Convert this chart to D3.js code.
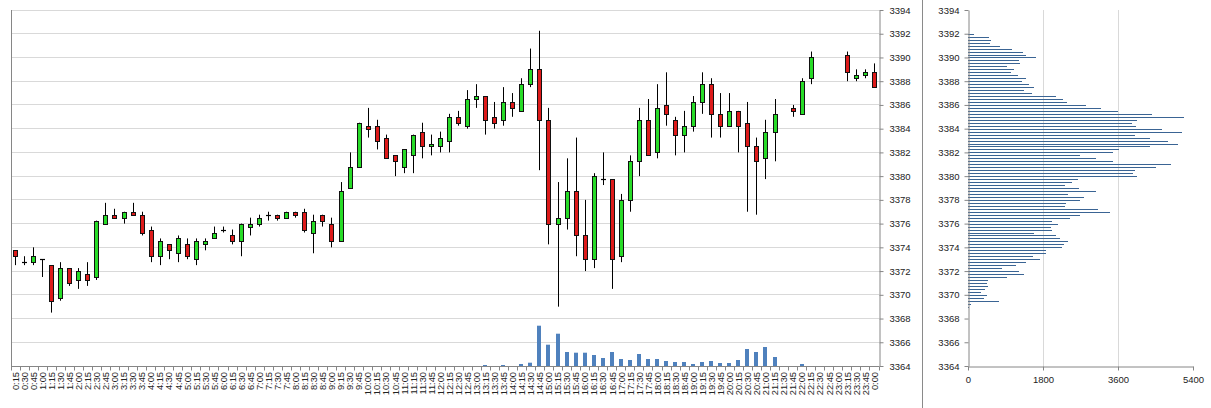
<!DOCTYPE html>
<html><head><meta charset="utf-8">
<script src="https://cdn.jsdelivr.net/npm/d3@7"></script>
<style>html,body{margin:0;padding:0;background:#fff;}svg{display:block;}</style>
</head><body>
<script>
// ---------- DATA ----------
const timeLabels = ["0:15","0:30","0:45","1:00","1:15","1:30","1:45","2:00","2:15","2:30","2:45","3:00","3:15","3:30","3:45","4:00","4:15","4:30","4:45","5:00","5:15","5:30","5:45","6:00","6:15","6:30","6:45","7:00","7:15","7:30","7:45","8:00","8:15","8:30","8:45","9:00","9:15","9:30","9:45","10:00","10:15","10:30","10:45","11:00","11:15","11:30","11:45","12:00","12:15","12:30","12:45","13:00","13:15","13:30","13:45","14:00","14:15","14:30","14:45","15:00","15:15","15:30","15:45","16:00","16:15","16:30","16:45","17:00","17:15","17:30","17:45","18:00","18:15","18:30","18:45","19:00","19:15","19:30","19:45","20:00","20:15","20:30","20:45","21:00","21:15","21:30","21:45","22:00","22:15","22:30","22:45","23:00","23:15","23:30","23:45","0:00"];

const openP = [3373.75,3372.75,3372.75,3373.0,3372.5,3369.75,3372.25,3371.25,3371.75,3371.5,
3376.0,3376.75,3376.5,3377.0,3376.75,3375.5,3373.25,3374.25,3373.5,3374.25,
3373.0,3374.25,3374.75,3375.5,3375.0,3374.5,3375.75,3376.0,3376.75,3376.75,
3376.5,3377.0,3377.0,3375.25,3376.75,3376.0,3374.5,3379.0,3380.75,3384.25,
3384.25,3383.25,3381.75,3380.75,3381.75,3383.75,3382.5,3382.5,3383.0,3385.0,
3384.25,3386.5,3386.75,3385.0,3384.75,3386.25,3385.5,3387.75,3389.0,3384.75,
3376.0,3376.5,3378.75,3375.0,3373.0,3379.75,3379.75,3373.25,3378.0,3381.25,
3384.75,3382.0,3386.0,3384.75,3383.5,3384.25,3386.25,3387.75,3385.25,3384.25,
3385.5,3384.5,3382.5,3381.5,3383.75,null,3385.75,3385.25,3388.25,null,
null,null,3390.25,3388.25,3388.5,3388.75];

const highP = [3373.75,3373.25,3374.0,3373.0,3372.5,3372.75,3372.25,3372.25,3372.75,3376.25,
3377.75,3377.25,3377.0,3377.75,3377.0,3375.75,3374.75,3374.25,3375.0,3374.75,
3374.75,3374.75,3375.75,3375.75,3375.5,3376.0,3376.5,3376.75,3377.0,3376.75,
3377.0,3377.0,3377.25,3376.75,3376.75,3376.5,3379.5,3382.0,3384.5,3385.75,
3384.75,3383.5,3381.75,3382.25,3383.5,3384.5,3383.5,3383.75,3385.25,3385.5,
3387.25,3387.75,3386.75,3386.25,3387.5,3387.0,3388.25,3390.75,3392.25,3385.75,
3379.5,3381.5,3383.25,3378.0,3380.25,3382.0,3379.75,3378.5,3381.75,3385.75,
3386.5,3387.75,3388.75,3385.0,3385.5,3386.75,3388.75,3388.25,3387.0,3387.0,
3385.5,3386.25,3383.25,3384.75,3386.5,null,3386.0,3388.25,3390.5,null,
null,null,3390.5,3389.0,3389.0,3389.5];

const lowP = [3372.5,3372.5,3372.5,3371.5,3368.5,3369.5,3370.75,3370.5,3370.75,3371.25,
3376.0,3376.5,3376.0,3376.75,3375.0,3372.75,3372.5,3373.0,3372.75,3373.0,
3372.5,3373.75,3374.75,3375.25,3374.25,3373.25,3375.0,3375.75,3376.25,3376.25,
3376.5,3376.5,3375.25,3373.5,3375.75,3374.0,3374.5,3379.0,3380.75,3383.25,
3382.25,3381.5,3380.0,3380.25,3380.25,3381.5,3381.75,3382.0,3382.0,3384.25,
3384.0,3385.75,3383.5,3384.0,3384.25,3385.0,3385.5,3387.5,3380.5,3374.25,
3369.0,3375.5,3373.25,3372.0,3372.25,3379.25,3370.5,3372.75,3377.0,3380.0,
3381.75,3381.5,3384.25,3381.75,3382.0,3383.75,3385.25,3383.25,3383.25,3384.25,
3382.0,3377.0,3376.75,3379.75,3381.25,null,3385.0,3385.25,3387.75,null,
null,null,3388.0,3388.0,3388.25,3387.5];

const closeP = [3373.25,3372.75,3373.25,3373.0,3369.5,3372.25,3371.0,3372.0,3371.25,3376.25,
3376.75,3376.5,3377.0,3376.75,3375.25,3373.25,3374.5,3373.75,3374.75,3373.25,
3374.5,3374.5,3375.25,3375.5,3374.5,3376.0,3376.0,3376.5,3376.75,3376.5,
3377.0,3376.75,3375.5,3376.25,3376.25,3374.5,3378.75,3380.75,3384.5,3384.0,
3383.0,3381.5,3381.25,3382.25,3383.5,3382.5,3382.75,3383.25,3385.0,3384.5,
3386.5,3386.75,3384.75,3384.5,3386.25,3385.75,3387.75,3389.0,3384.75,3376.0,
3376.5,3378.75,3375.0,3373.0,3380.0,3379.75,3373.0,3378.0,3381.25,3384.75,
3381.75,3385.75,3385.25,3383.5,3384.25,3386.25,3387.75,3385.25,3384.25,3385.5,
3384.25,3382.5,3381.25,3383.75,3385.25,null,3385.5,3388.0,3390.0,null,
null,null,3388.75,3388.5,3388.75,3387.5];

const volume = [0,0,0,0,0,0,0,0,0,0,
0,0,0,0,0,0,0,0,0,0,
0,0,0,0,0,0,0,0,0,0,
0,0,0,0,0,0,0,0,0,0,
0,0,0,0,0,0,0,0,0,0,
0,0,500,0,500,0,1000,1650,20150,10650,
16150,7000,6650,6650,5500,4000,7000,3500,3000,6000,
3500,3500,2500,2000,2000,1000,2000,2500,1500,1500,
3000,8500,7000,9500,4500,0,0,1000,0,0,
0,0,0,0,0,0];

const priceTicks = [3364,3366,3368,3370,3372,3374,3376,3378,3380,3382,3384,3386,3388,3390,3392,3394];

const profileLevels = [3392,3391.75,3391.5,3391.25,3391,3390.75,3390.5,3390.25,3390,3389.75,
3389.5,3389.25,3389,3388.75,3388.5,3388.25,3388,3387.75,3387.5,3387.25,
3387,3386.75,3386.5,3386.25,3386,3385.75,3385.5,3385.25,3385,3384.75,
3384.5,3384.25,3384,3383.75,3383.5,3383.25,3383,3382.75,3382.5,3382.25,
3382,3381.75,3381.5,3381.25,3381,3380.75,3380.5,3380.25,3380,3379.75,
3379.5,3379.25,3379,3378.75,3378.5,3378.25,3378,3377.75,3377.5,3377.25,
3377,3376.75,3376.5,3376.25,3376,3375.75,3375.5,3375.25,3375,3374.75,
3374.5,3374.25,3374,3373.75,3373.5,3373.25,3373,3372.75,3372.5,3372.25,
3372,3371.75,3371.5,3371.25,3371,3370.75,3370.5,3370.25,3370,3369.75,
3369.5,3369.25,3369];

const profileVolume = [140,500,540,520,775,1045,1320,1380,1625,1230,
1240,945,1095,1025,1195,1400,1300,1455,1590,1345,
1525,2110,2280,2375,2830,3185,3590,4420,5190,4050,
3940,4030,4660,5140,4000,4370,4790,5045,4360,3630,
3490,2690,3070,3480,4860,4515,4000,3965,4055,2650,
2505,2330,2670,3070,2400,2795,2685,2360,2335,3115,
3415,2685,2440,2010,2150,1995,2010,1590,2120,2200,
2410,2295,2250,1880,1880,1560,1735,1400,1155,820,
1235,1335,935,480,465,480,415,320,450,385,
740,80,20];

const profileTicks = [0,1800,3600,5400];

// ---------- DRAW ----------
const W = 1211, H = 408;
const FONT = "Liberation Sans, Arial, sans-serif";
const AXIS = "#868686", GRID = "#d9d9d9", TXT = "#222";
const UP = "#28dc28", DOWN = "#dd1a1a";

const svg = d3.select("body").append("svg").attr("width", W).attr("height", H);
const px = v => Math.floor(v) + 0.5;

const x = d3.scaleBand().domain(timeLabels).range([11, 879]);
const y = d3.scaleLinear().domain([3364, 3394]).range([366, 10]);
const yVol = d3.scaleLinear().domain([0, 178000]).range([366, 10]);

const main = svg.append("g");

// gridlines
main.append("g").selectAll("line").data(priceTicks.filter(t => t > 3364)).join("line")
  .attr("x1", 11).attr("x2", 879)
  .attr("y1", d => px(y(d))).attr("y2", d => px(y(d)))
  .attr("stroke", GRID).attr("stroke-width", 1);

// volume bars
const cx = lab => x(lab) + x.bandwidth() / 2;
main.append("g").selectAll("rect")
  .data(timeLabels.map((t, i) => ({t, v: volume[i]})).filter(d => d.v > 0)).join("rect")
  .attr("x", d => Math.floor(cx(d.t)) - 2)
  .attr("width", 4)
  .attr("y", d => yVol(d.v))
  .attr("height", d => yVol(0) - yVol(d.v))
  .attr("fill", "#4f81bd");

// candles
const candles = timeLabels.map((t, i) => ({t, o: openP[i], h: highP[i], l: lowP[i], c: closeP[i]}))
  .filter(d => d.o !== null);
const cg = main.append("g").selectAll("g").data(candles).join("g");
cg.append("line")
  .attr("x1", d => px(cx(d.t))).attr("x2", d => px(cx(d.t)))
  .attr("y1", d => y(d.h)).attr("y2", d => y(d.l))
  .attr("stroke", "#000").attr("stroke-width", 1);
cg.each(function(d) {
  const g = d3.select(this);
  const top = y(Math.max(d.o, d.c)), bot = y(Math.min(d.o, d.c));
  const xc = Math.floor(cx(d.t));
  if (bot - top < 1.5) {
    g.append("line").attr("x1", xc - 2).attr("x2", xc + 3)
      .attr("y1", Math.round(top) + 0.5).attr("y2", Math.round(top) + 0.5)
      .attr("stroke", "#000").attr("stroke-width", 1.2);
  } else {
    g.append("rect")
      .attr("x", xc - 1.5).attr("width", 4)
      .attr("y", Math.round(top) + 0.5).attr("height", Math.max(1, Math.round(bot) - Math.round(top)))
      .attr("fill", d.c > d.o ? UP : DOWN)
      .attr("stroke", "#111").attr("stroke-width", 1);
  }
});

// left line and bottom axis line
main.append("line").attr("x1", 11.5).attr("x2", 11.5).attr("y1", 10).attr("y2", 366.5)
  .attr("stroke", AXIS);
main.append("line").attr("x1", 11).attr("x2", 879).attr("y1", 366.5).attr("y2", 366.5)
  .attr("stroke", AXIS);

// x ticks at category boundaries
const bounds = timeLabels.map(t => x(t)).concat([879]);
main.append("g").selectAll("line").data(bounds).join("line")
  .attr("x1", d => px(d)).attr("x2", d => px(d))
  .attr("y1", 366.5).attr("y2", 370.5).attr("stroke", AXIS);

// x labels (rotated)
main.append("g").selectAll("text").data(timeLabels).join("text")
  .attr("transform", d => `translate(${cx(d)},372) rotate(-90)`)
  .attr("text-anchor", "end").attr("dy", "0.35em")
  .attr("font-family", FONT).attr("font-size", 9.3).attr("fill", TXT)
  .text(d => d);

// right price axis
const ra = main.append("g").attr("transform", "translate(879.5,0)")
  .call(d3.axisRight(y).tickValues(priceTicks).tickSize(4).tickSizeOuter(0).tickPadding(6).tickFormat(d3.format("d")));
ra.select(".domain").attr("stroke", AXIS);
ra.selectAll(".tick line").attr("stroke", AXIS);
ra.selectAll("text").attr("font-family", FONT).attr("font-size", 9.5).attr("fill", TXT);

// separator
svg.append("line").attr("x1", 922.5).attr("x2", 922.5).attr("y1", 0).attr("y2", H)
  .attr("stroke", "#8a8a8a").attr("stroke-width", 1);

// ---------- volume profile ----------
const xp = d3.scaleLinear().domain([0, 5400]).range([968, 1193]);
const prof = svg.append("g");
prof.append("g").selectAll("line").data(profileTicks.filter(t => t > 0 && t < 5400)).join("line")
  .attr("x1", d => px(xp(d))).attr("x2", d => px(xp(d)))
  .attr("y1", 10).attr("y2", 366).attr("stroke", GRID);

prof.append("g").attr("shape-rendering", "crispEdges").selectAll("rect")
  .data(profileLevels.map((p, i) => ({p, v: profileVolume[i]}))).join("rect")
  .attr("x", xp(0)).attr("width", d => xp(d.v) - xp(0))
  .attr("y", d => Math.round(y(d.p))).attr("height", 1)
  .attr("fill", "#3a6494");

const la = prof.append("g").attr("transform", "translate(968.5,0)")
  .call(d3.axisLeft(y).tickValues(priceTicks).tickSize(4).tickSizeOuter(0).tickPadding(5).tickFormat(d3.format("d")));
la.select(".domain").attr("stroke", AXIS);
la.selectAll(".tick line").attr("stroke", AXIS);
la.selectAll("text").attr("font-family", FONT).attr("font-size", 9.5).attr("fill", TXT);

const ba = prof.append("g").attr("transform", "translate(0,366.5)")
  .call(d3.axisBottom(xp).tickValues(profileTicks).tickSize(4).tickSizeOuter(0).tickPadding(6).tickFormat(d3.format("d")));
ba.select(".domain").attr("stroke", AXIS);
ba.selectAll(".tick line").attr("stroke", AXIS);
ba.selectAll("text").attr("font-family", FONT).attr("font-size", 9.5).attr("fill", TXT);
</script>
</body></html>
